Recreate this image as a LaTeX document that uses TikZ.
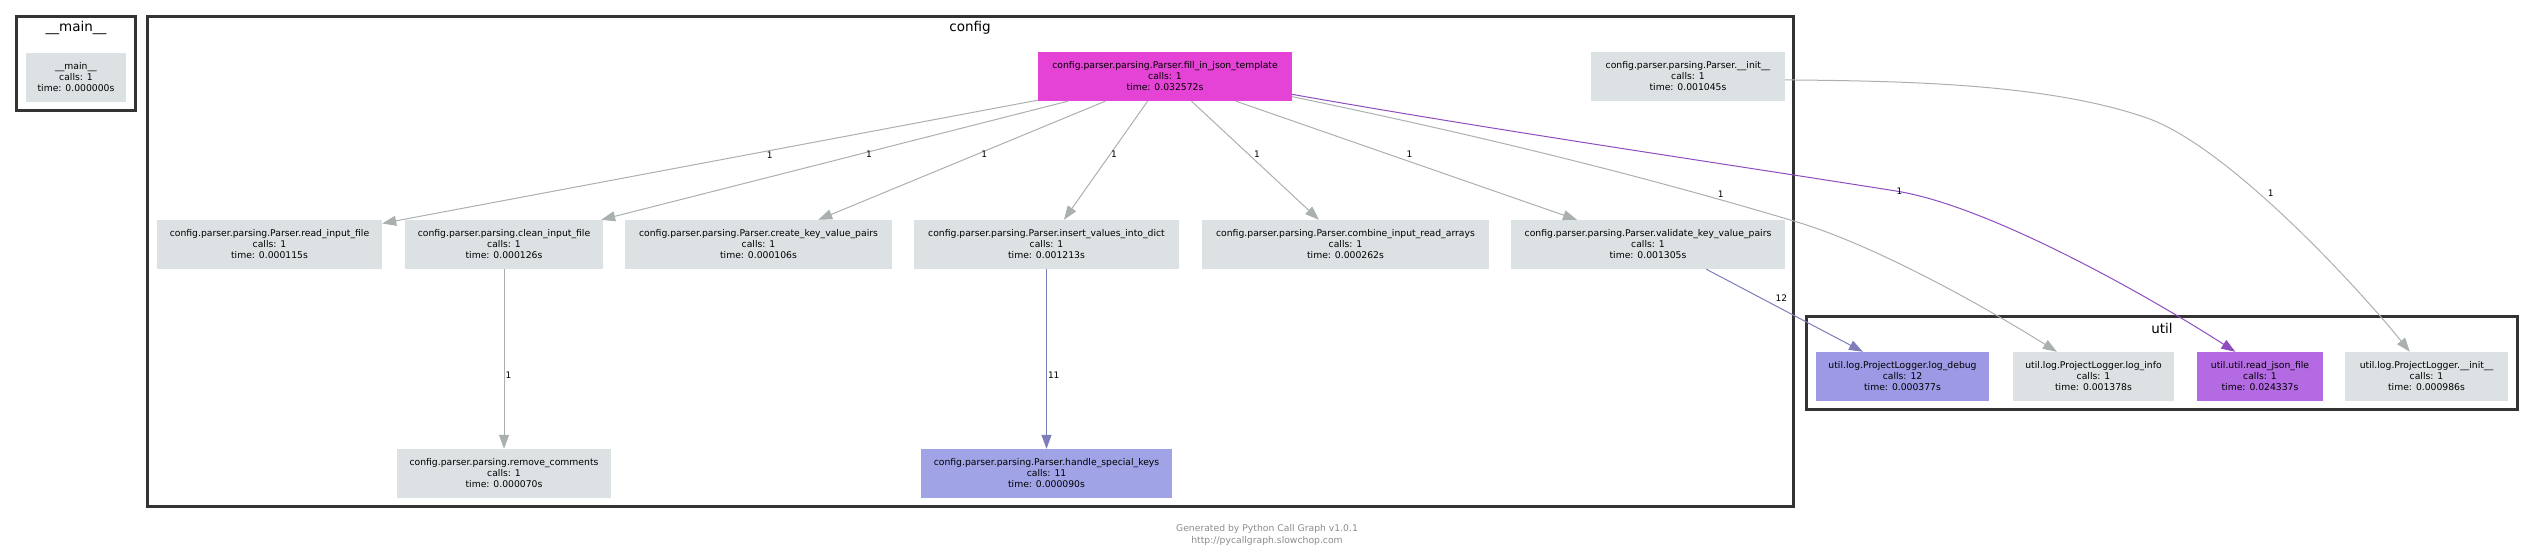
\documentclass[tikz,border=0pt]{standalone}
\usepackage{fontspec}
\setmainfont{DejaVu Sans}
\usetikzlibrary{arrows.meta}
\definecolor{nodegray}{HTML}{DCE2E4}
\definecolor{hotpink}{HTML}{E542D6}
\definecolor{lavender}{HTML}{A0A4E6}
\definecolor{dbgblue}{HTML}{9D99E4}
\definecolor{jsonpurple}{HTML}{B36AE2}
\definecolor{edgegray}{HTML}{AAB0B0}
\definecolor{edgeblue}{HTML}{7D7DBA}
\definecolor{edgepurple}{HTML}{8E4DBF}
\definecolor{framegray}{HTML}{333333}
\definecolor{footgray}{HTML}{8C8C8C}
\newcommand{\callinfo}[3]{#1\\calls: #2\\time: #3s}
\begin{document}
\begin{tikzpicture}[x=1pt,y=-1pt,>={Triangle[length=14pt,width=10pt]},
  func/.style={fill=nodegray,inner sep=0pt,minimum height=49pt,align=center,font=\fontsize{9.25}{11}\selectfont},
  cluster/.style={draw=framegray,line width=2.6pt},
  ctitle/.style={inner sep=0pt,font=\fontsize{13.5}{16}\selectfont},
  call/.style={->,draw=edgegray,line width=1pt},
  elbl/.style={inner sep=0pt,font=\fontsize{9}{11}\selectfont}]
\useasboundingbox (0,0) rectangle (2535,558);
\draw[cluster](16.3,16.3)rectangle(135.7,110.7);
\draw[cluster](147.3,16.3)rectangle(1793.7,506.7);
\draw[cluster](1806.3,316.3)rectangle(2517.7,409.7);
\node[ctitle](tmain)at(76,28){\_\_main\_\_};
\node[ctitle](tconfig)at(970,28){config};
\node[ctitle](tutil)at(2162,328){util};
\node[func,minimum width=100pt](main)at(76,77){\callinfo{\_\_main\_\_}{1}{0.000000}};
\node[func,fill=hotpink,minimum width=254pt](fill)at(1165,76.5){\callinfo{config.parser.parsing.Parser.fill\_in\_json\_template}{1}{0.032572}};
\node[func,minimum width=194pt](pinit)at(1688,76.5){\callinfo{config.parser.parsing.Parser.\_\_init\_\_}{1}{0.001045}};
\node[func,minimum width=225pt](rif)at(269.5,244.5){\callinfo{config.parser.parsing.Parser.read\_input\_file}{1}{0.000115}};
\node[func,minimum width=198pt](cif)at(504,244.5){\callinfo{config.parser.parsing.clean\_input\_file}{1}{0.000126}};
\node[func,minimum width=267pt](ckv)at(758.5,244.5){\callinfo{config.parser.parsing.Parser.create\_key\_value\_pairs}{1}{0.000106}};
\node[func,minimum width=265pt](ivd)at(1046.5,244.5){\callinfo{config.parser.parsing.Parser.insert\_values\_into\_dict}{1}{0.001213}};
\node[func,minimum width=287pt](cir)at(1345.5,244.5){\callinfo{config.parser.parsing.Parser.combine\_input\_read\_arrays}{1}{0.000262}};
\node[func,minimum width=274pt](vkv)at(1648,244.5){\callinfo{config.parser.parsing.Parser.validate\_key\_value\_pairs}{1}{0.001305}};
\node[func,minimum width=214pt](rc)at(504,473.5){\callinfo{config.parser.parsing.remove\_comments}{1}{0.000070}};
\node[func,fill=lavender,minimum width=251pt](hsk)at(1046.5,473.5){\callinfo{config.parser.parsing.Parser.handle\_special\_keys}{11}{0.000090}};
\node[func,fill=dbgblue,minimum width=173pt](ldbg)at(1902.5,376.5){\callinfo{util.log.ProjectLogger.log\_debug}{12}{0.000377}};
\node[func,minimum width=161pt](linf)at(2093.5,376.5){\callinfo{util.log.ProjectLogger.log\_info}{1}{0.001378}};
\node[func,fill=jsonpurple,minimum width=126pt](rjf)at(2260,376.5){\callinfo{util.util.read\_json\_file}{1}{0.024337}};
\node[func,minimum width=163pt](plinit)at(2426.5,376.5){\callinfo{util.log.ProjectLogger.\_\_init\_\_}{1}{0.000986}};
\draw[call](fill)--node[elbl,pos=.45,xshift=27pt]{1}(rif);
\draw[call](fill)--node[elbl,pos=.45,xshift=11pt]{1}(cif);
\draw[call](fill)--node[elbl,pos=.45,xshift=8pt]{1}(ckv);
\draw[call](fill)--node[elbl,pos=.45,xshift=4pt]{1}(ivd);
\draw[call](fill)--node[elbl,pos=.45,xshift=8pt]{1}(cir);
\draw[call](fill)--node[elbl,pos=.45,xshift=20pt]{1}(vkv);
\draw[call](cif)--node[elbl,pos=.59,anchor=west,xshift=1pt]{1}(rc);
\draw[call,draw=edgeblue](ivd)--node[elbl,pos=.59,anchor=west,xshift=1pt]{11}(hsk);
\draw[call,draw=edgeblue](vkv.-23.6)--node[elbl,pos=.48,above=7pt]{12}(ldbg.148.8);
\draw[call](fill.-9.8)..controls(1462,132)and(1627,171)..(1797,222)node[elbl,pos=.85,above=2pt]{1}
  ..controls(1877,246)and(1987,308)..(linf.146);
\draw[call,draw=edgepurple](fill.-8.9)..controls(1500,131)and(1700,160)..(1896,191)node[elbl,anchor=west]{1}
  ..controls(1990,206)and(2150,297)..(rjf.135.6);
\draw[call](pinit.-2)..controls(1900,81)and(2047,83)..(2147,118)
  ..controls(2227,146)and(2355,284)..(plinit.124)node[elbl,pos=.4,anchor=west,xshift=9pt]{1};
\node[align=center,text=footgray,font=\fontsize{9.25}{12}\selectfont](credit)at(1267,535){Generated by Python Call Graph v1.0.1\\http://pycallgraph.slowchop.com};
\end{tikzpicture}
\end{document}
